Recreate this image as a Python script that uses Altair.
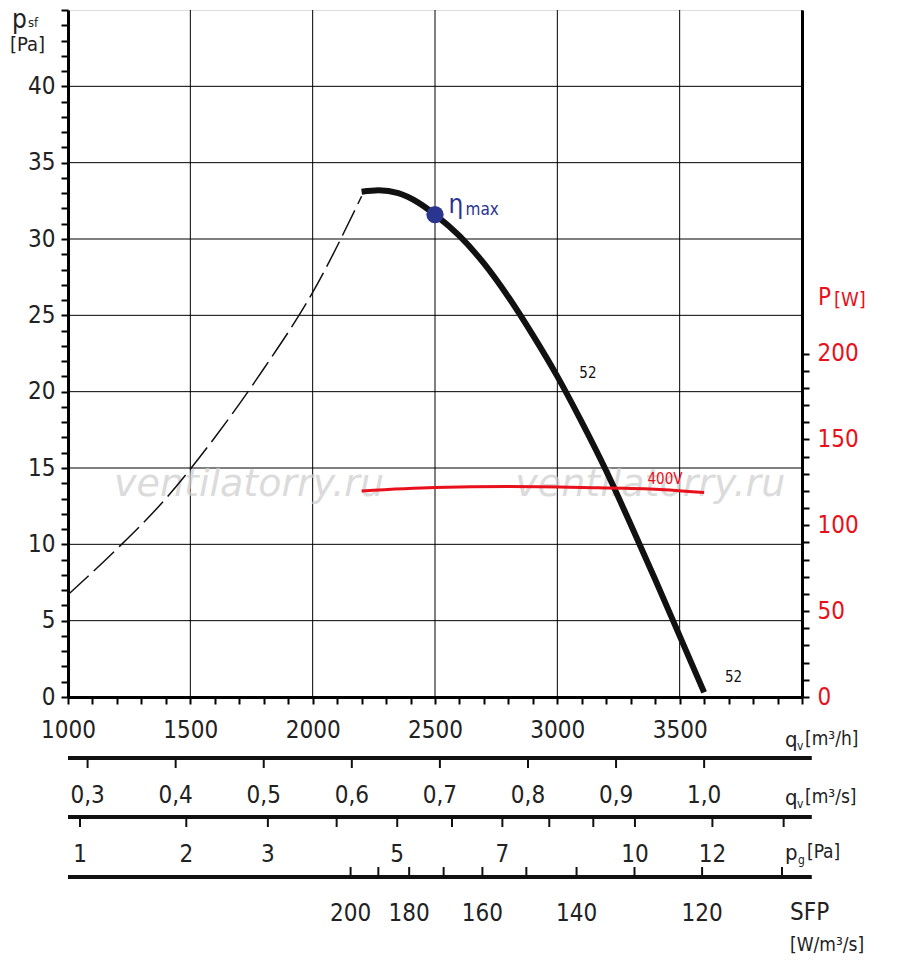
import altair as alt
import pandas as pd
import numpy as np

FONT = "DejaVu Sans Condensed, Liberation Sans Narrow, Roboto, sans-serif"

q_main = [2200, 2270, 2350, 2430, 2500, 2600, 2700, 2800, 2900, 3000, 3100, 3200, 3300, 3400, 3500, 3600]
p_main = [33.1, 33.2, 33.0, 32.4, 31.6, 30.2, 28.4, 26.2, 23.7, 21.0, 18.0, 14.8, 11.3, 7.7, 4.0, 0.3]
q_dash = [1000, 1200, 1400, 1600, 1800, 2000, 2200]
p_dash = [6.7, 9.7, 13.0, 17.0, 21.5, 26.5, 32.8]
q_pow = [2200, 2500, 2800, 3100, 3400, 3600]
w_pow = [120, 122, 122.5, 122, 121, 119]
q_eta = [2500]
p_eta = [31.6]

qms_ticks = [0.3, 0.4, 0.5, 0.6, 0.7, 0.8, 0.9, 1.0]
qms_labels = ["0,3", "0,4", "0,5", "0,6", "0,7", "0,8", "0,9", "1,0"]
pg_ticks = [1, 2, 3, 4, 5, 6, 7, 8, 9, 10, 12, 14]
pg_labels = [1, 2, 3, 5, 7, 10, 12]
sfp_ticks = [200, 190, 180, 170, 160, 150, 140, 130, 120, 110]
sfp_labels = [200, 180, 160, 140, 120]
PG_C = 1049.0
SFP_K = 431000.0

W, H = 734, 687
xs = alt.Scale(domain=[1000, 4000], nice=False)
ys = alt.Scale(domain=[0, 45], nice=False)
ps = alt.Scale(domain=[0, 400], nice=False)

XAX = alt.Axis(values=list(range(1000, 4001, 100)),
    labelExpr="datum.value % 500 == 0 && datum.value < 4000 ? datum.value : ''",
    tickSize=7, tickWidth=2, domainWidth=3, domainColor="black", tickColor="black",
    labelFont=FONT, labelFontSize=24, labelColor="#222", labelPadding=14,
    labelFlush=False, grid=False, title=None)
YAX = alt.Axis(values=list(range(0, 46)),
    labelExpr="datum.value % 5 == 0 && datum.value <= 40 ? datum.value : ''",
    tickSize=7, tickWidth=2, domainWidth=3, domainColor="black", tickColor="black",
    labelFont=FONT, labelFontSize=24, labelColor="#222", labelPadding=6,
    grid=False, title=None)
PAX = alt.Axis(orient="right", values=list(range(0, 201, 10)),
    labelExpr="datum.value % 50 == 0 ? datum.value : ''",
    tickSize=7, tickWidth=2, domainWidth=3, domainColor="black", tickColor="black",
    labelFont=FONT, labelFontSize=24, labelColor="#e8101a", labelPadding=8, grid=False, title=None)

def X(f="q"):
    return alt.X(f + ":Q", scale=xs, axis=XAX)

def Y(f="p"):
    return alt.Y(f + ":Q", scale=ys, axis=YAX)

def P(f="w"):
    return alt.Y(f + ":Q", scale=ps, axis=PAX)

gx = pd.DataFrame({"q": [1500, 2000, 2500, 3000, 3500, 4000]})
gy = pd.DataFrame({"p": [5, 10, 15, 20, 25, 30, 35, 40]})
grid_v = alt.Chart(gx).mark_rule(color="black", strokeWidth=1).encode(x=X())
grid_h = alt.Chart(gy).mark_rule(color="black", strokeWidth=1).encode(y=Y())

main = alt.Chart(pd.DataFrame({"q": q_main, "p": p_main})).mark_line(
    color="#111", strokeWidth=6, interpolate="monotone").encode(x=X(), y=Y())
dash = alt.Chart(pd.DataFrame({"q": q_dash, "p": p_dash})).mark_line(
    color="#111", strokeWidth=1.5, strokeDash=[28, 7], interpolate="monotone").encode(x=X(), y=Y())
eta = alt.Chart(pd.DataFrame({"q": q_eta, "p": p_eta})).mark_circle(
    color="#2a3590", size=300, opacity=1).encode(x=X(), y=Y())
eta_t = alt.Chart(pd.DataFrame({"q": [2555], "p": [32.2], "t": ["η"]})).mark_text(
    color="#2a3590", font=FONT, fontSize=26, align="left").encode(x=X(), y=Y(), text="t:N")
eta_t2 = alt.Chart(pd.DataFrame({"q": [2625], "p": [31.9], "t": ["max"]})).mark_text(
    color="#2a3590", font=FONT, fontSize=17, align="left").encode(x=X(), y=Y(), text="t:N")
lab52 = alt.Chart(pd.DataFrame({"q": [3090, 3685], "p": [21.2, 1.3], "t": ["52", "52"]})).mark_text(
    color="#111", font=FONT, fontSize=15, align="left").encode(x=X(), y=Y(), text="t:N")
wm = alt.Chart(pd.DataFrame({"q": [1740, 3380], "p": [13.9, 13.9], "t": ["ventilatorry.ru"] * 2})).mark_text(
    color="#d0d0d0", font="DejaVu Sans", fontStyle="italic", fontSize=38, opacity=0.75).encode(
    x=X(), y=Y(), text="t:N")

left = alt.layer(grid_v, grid_h, wm, dash, main, eta, eta_t, eta_t2, lab52)

powl = alt.Chart(pd.DataFrame({"q": q_pow, "w": w_pow})).mark_line(
    color="#e8101a", strokeWidth=3, interpolate="monotone").encode(x=X(), y=P())
v400 = alt.Chart(pd.DataFrame({"q": [3440], "w": [127], "t": ["400V"]})).mark_text(
    color="#e8101a", font=FONT, fontSize=15).encode(x=X(), y=P(), text="t:N")
right = alt.layer(powl, v400)

def txt(x, y, t, size=20, color="#222", align="left"):
    return alt.Chart(pd.DataFrame({"t": [t]})).mark_text(
        font=FONT, fontSize=size, color=color, align=align, baseline="middle").encode(
        x=alt.value(x), y=alt.value(y), text="t:N")

def hline(y):
    return alt.Chart(pd.DataFrame({"q": [1000], "q2": [4040]})).mark_rule(
        color="#111", strokeWidth=4).encode(x=X(), x2="q2:Q", y=alt.value(y))

qms_df = pd.DataFrame({"q": [v * 3600 for v in qms_ticks], "t": qms_labels})
qms_tk = alt.Chart(qms_df).mark_rule(color="#111", strokeWidth=2).encode(
    x=X(), y=alt.value(748), y2=alt.value(758))
qms_tx = alt.Chart(qms_df).mark_text(font=FONT, fontSize=24, color="#222").encode(
    x=X(), y=alt.value(786), text="t:N")

pgt_df = pd.DataFrame({"q": [PG_C * np.sqrt(v) for v in pg_ticks]})
pgl_df = pd.DataFrame({"q": [PG_C * np.sqrt(v) for v in pg_labels], "t": [str(v) for v in pg_labels]})
pg_tk = alt.Chart(pgt_df).mark_rule(color="#111", strokeWidth=2).encode(
    x=X(), y=alt.value(807), y2=alt.value(817))
pg_tx = alt.Chart(pgl_df).mark_text(font=FONT, fontSize=24, color="#222").encode(
    x=X(), y=alt.value(845), text="t:N")

sft_df = pd.DataFrame({"q": [SFP_K / v for v in sfp_ticks]})
sfl_df = pd.DataFrame({"q": [SFP_K / v for v in sfp_labels], "t": [str(v) for v in sfp_labels]})
sf_tk = alt.Chart(sft_df).mark_rule(color="#111", strokeWidth=2).encode(
    x=X(), y=alt.value(857), y2=alt.value(867))
sf_tx = alt.Chart(sfl_df).mark_text(font=FONT, fontSize=24, color="#222").encode(
    x=X(), y=alt.value(904), text="t:N")

annots = [
    txt(-56, 10, "p", 26), txt(-40, 13, "sf", 13), txt(-58, 35, "[Pa]", 20),
    txt(750, 288, "P", 24, "#e8101a"), txt(766, 290, "[W]", 20, "#e8101a"),
    txt(717, 730, "q", 22), txt(729, 736, "v", 12), txt(737, 729, "[m³/h]", 19),
    txt(717, 788, "q", 22), txt(729, 794, "v", 12), txt(737, 787, "[m³/s]", 19),
    txt(717, 843, "p", 22), txt(730, 850, "g", 12), txt(739, 842, "[Pa]", 19),
    txt(722, 903, "SFP", 24), txt(722, 935, "[W/m³/s]", 19),
]

bottom = alt.layer(hline(748), hline(807), hline(867), qms_tk, qms_tx, pg_tk, pg_tx, sf_tk, sf_tx, *annots)

chart = alt.layer(left, right, bottom).resolve_scale(y="independent").properties(
    width=W, height=H, padding={"left": 60, "top": 2, "right": 90, "bottom": 270},
    autosize=alt.AutoSizeParams(type="none"),
).configure_view(stroke="black", strokeWidth=3).configure(background="white")

chart.save("out.html", embed_options={"renderer": "svg", "actions": False})
